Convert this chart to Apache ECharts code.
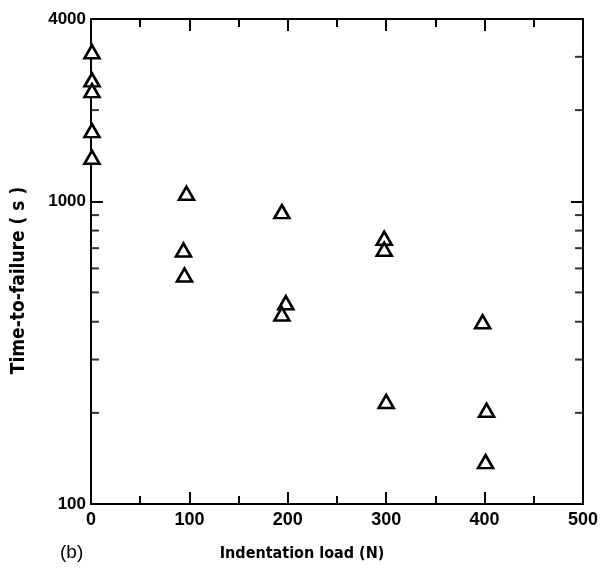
<!DOCTYPE html>
<html>
<head>
<meta charset="utf-8">
<script src="https://cdn.jsdelivr.net/npm/echarts@6/dist/echarts.min.js"></script>
<style>
  html, body { margin: 0; padding: 0; background: #fff; }
  #chart { width: 601px; height: 568px; }
</style>
</head>
<body>
<div id="chart"></div>
<script>
// indentation load (N) and time-to-failure (s)
var loadN = [1, 1, 1, 1, 1, 97, 94, 95, 194, 198, 194, 298, 298, 300, 398, 402, 401];
var timeS = [3120, 2517, 2320, 1711, 1398, 1063, 690, 571, 924, 462, 424, 755, 694, 218, 400, 204, 138];
// minor ticks on the log axis
var minorY = [200, 300, 400, 500, 600, 700, 800, 900, 2000, 3000];
var yLabels = [100, 1000, 4000];

var points = [];
for (var i = 0; i < loadN.length; i++) {
    points.push([loadN[i], timeS[i]]);
}
var leftTicks = [], rightTicks = [];
for (var j = 0; j < minorY.length; j++) {
    leftTicks.push([0, minorY[j]]);
    rightTicks.push([500, minorY[j]]);
}

var lineStyle = { color: '#000', width: 2 };
var chart = echarts.init(document.getElementById('chart'));
chart.setOption({
    backgroundColor: '#fff',
    animation: false,
    grid: { left: 91, right: 18, top: 19, bottom: 64 },
    xAxis: [{
        type: 'value',
        min: 0, max: 500, interval: 100,
        name: 'Indentation load (N)',
        nameLocation: 'middle',
        nameGap: 42,
        nameTextStyle: {
            color: '#000', fontFamily: 'DejaVu Sans Condensed', fontWeight: 'bold',
            fontSize: 16, padding: [0, 70, 0, 0]
        },
        axisLine: { show: true, onZero: false, lineStyle: lineStyle },
        axisTick: { show: true, inside: true, length: 12, lineStyle: lineStyle },
        minorTick: { show: true, splitNumber: 2, length: 8, lineStyle: lineStyle },
        splitLine: { show: false },
        axisLabel: {
            color: '#000', fontFamily: 'Liberation Sans', fontWeight: 'bold',
            fontSize: 18, margin: 7
        }
    }, {
        type: 'value',
        position: 'top',
        min: 0, max: 500, interval: 100,
        axisLine: { show: true, onZero: false, lineStyle: lineStyle },
        axisTick: { show: true, inside: true, length: 12, lineStyle: lineStyle },
        minorTick: { show: true, splitNumber: 2, length: 8, lineStyle: lineStyle },
        splitLine: { show: false },
        axisLabel: { show: false }
    }],
    yAxis: [{
        type: 'log',
        logBase: 10,
        min: 100, max: 4000,
        name: 'Time-to-failure ( s )',
        nameLocation: 'middle',
        nameGap: 62,
        nameTextStyle: {
            color: '#000', fontFamily: 'DejaVu Sans Condensed', fontWeight: 'bold',
            fontSize: 19, padding: [0, 38, 0, 0]
        },
        axisLine: { show: true, onZero: false, lineStyle: lineStyle },
        axisTick: { show: true, inside: true, length: 12, lineStyle: lineStyle },
        splitLine: { show: false },
        axisLabel: {
            color: '#000', fontFamily: 'Liberation Sans', fontWeight: 'bold',
            fontSize: 17, margin: 5,
            formatter: function (v) {
                return yLabels.indexOf(Math.round(v)) >= 0 ? String(Math.round(v)) : '';
            }
        }
    }, {
        type: 'log',
        logBase: 10,
        min: 100, max: 4000,
        position: 'right',
        axisLine: { show: true, onZero: false, lineStyle: lineStyle },
        axisTick: { show: true, inside: true, length: 12, lineStyle: lineStyle },
        splitLine: { show: false },
        axisLabel: { show: false }
    }],
    series: [{
        type: 'scatter',
        data: points,
        symbol: 'triangle',
        symbolSize: [15, 13],
        clip: false,
        itemStyle: { color: '#fff', borderColor: '#000', borderWidth: 2.6, opacity: 1 },
        z: 5
    }, {
        type: 'scatter',
        data: leftTicks,
        symbol: 'rect',
        symbolSize: [8, 2],
        symbolOffset: [4, 0],
        clip: false,
        silent: true,
        itemStyle: { color: '#000' }
    }, {
        type: 'scatter',
        data: rightTicks,
        symbol: 'rect',
        symbolSize: [8, 2],
        symbolOffset: [-4, 0],
        clip: false,
        silent: true,
        itemStyle: { color: '#000' }
    }],
    graphic: [{
        type: 'text',
        left: 60,
        top: 543,
        style: { text: '(b)', fill: '#000', font: '19px "Liberation Sans"' }
    }]
});
</script>
</body>
</html>
